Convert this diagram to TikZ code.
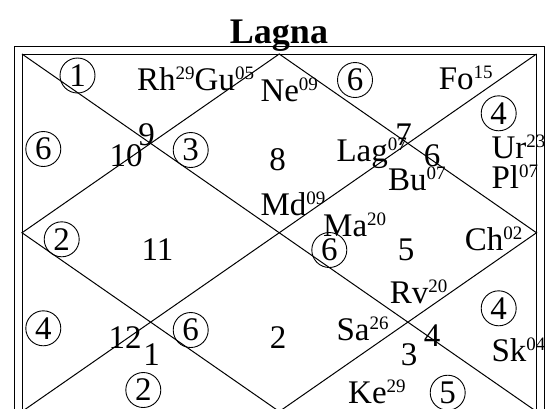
\documentclass[tikz,border=0pt]{standalone}
\usepackage{fontspec}
\setmainfont{Liberation Serif}
\newcommand{\plsup}[2]{#1\raisebox{11pt}{\fontsize{19}{19}\selectfont #2}}
\begin{document}
\begin{tikzpicture}[x=1pt,y=-1pt,line width=1pt,
  lbl/.style={anchor=base west,inner sep=0pt,font=\fontsize{33}{33}\selectfont},
  num/.style={anchor=base,inner sep=0pt,font=\fontsize{33}{33}\selectfont},
  circ/.style={circle,draw,line width=0.9pt,minimum size=35pt,inner sep=0pt,font=\fontsize{33}{33}\selectfont},
  ttl/.style={anchor=base,inner sep=0pt,font=\bfseries\fontsize{36}{36}\selectfont}]
\useasboundingbox (0,0) rectangle (556,408);
\clip (0,0) rectangle (556,408);
% frame
\coordinate (OTL) at (14,46.5);
\coordinate (OBR) at (544,419.5);
\coordinate (TL) at (22,54);
\coordinate (TR) at (536.5,54);
\coordinate (BL) at (22,411.5);
\coordinate (BR) at (536.5,411.5);
\coordinate (T) at (279.25,54);
\coordinate (L) at (22,232.75);
\coordinate (R) at (536.5,232.75);
\coordinate (B) at (279.25,411.5);
\draw (OTL) rectangle (OBR);
\draw (TL) rectangle (BR);
\draw (TL) -- (BR);
\draw (TR) -- (BL);
\draw (T) -- (R) -- (B) -- (L) -- cycle;
% title
\node[ttl] (title) at (279,43) {Lagna};
% planets
\node[lbl] (p1) at (136.7,90.5) {\plsup{Rh}{29}\plsup{Gu}{05}};
\node[lbl] (p2) at (260,101.5) {\plsup{Ne}{09}};
\node[lbl] (p3) at (438.3,89.3) {\plsup{Fo}{15}};
\node[lbl] (p4) at (491,158.3) {\plsup{Ur}{23}};
\node[lbl] (p5) at (491,188.3) {\plsup{Pl}{07}};
\node[lbl] (p6) at (336,161) {\plsup{Lag}{07}};
\node[lbl] (p7) at (387.7,190) {\plsup{Bu}{07}};
\node[lbl] (p8) at (260,215) {\plsup{Md}{09}};
\node[lbl] (p9) at (322.7,236.7) {\plsup{Ma}{20}};
\node[lbl] (p10) at (464.3,250) {\plsup{Ch}{02}};
\node[lbl] (p11) at (389.3,303.3) {\plsup{Rv}{20}};
\node[lbl] (p12) at (336,340) {\plsup{Sa}{26}};
\node[lbl] (p13) at (491,361.7) {\plsup{Sk}{04}};
\node[lbl] (p14) at (347.7,403.3) {\plsup{Ke}{29}};
% sign numbers
\node[num] (s9) at (146.5,145) {9};
\node[num] (s10) at (126,166.7) {10};
\node[num] (s8) at (277.5,170) {8};
\node[num] (s7) at (403.5,145) {7};
\node[num] (s6) at (432,166.7) {6};
\node[num] (s11) at (157.5,260) {11};
\node[num] (s5) at (406,260) {5};
\node[num] (s12) at (125,348.3) {12};
\node[num] (s1) at (151.7,365) {1};
\node[num] (s2) at (278,348) {2};
\node[num] (s4) at (432,346.7) {4};
\node[num] (s3) at (409,365) {3};
% circled numbers
\node[circ] (c1) at (77.5,75.5) {1};
\node[circ] (c2) at (43.3,149) {6};
\node[circ] (c3) at (190.7,150) {3};
\node[circ] (c4) at (355,80) {6};
\node[circ] (c5) at (498.7,113.3) {4};
\node[circ] (c6) at (61.7,239.3) {2};
\node[circ] (c7) at (329.3,250) {6};
\node[circ] (c8) at (43.3,328.3) {4};
\node[circ] (c9) at (190.7,330) {6};
\node[circ] (c10) at (498.7,308.3) {4};
\node[circ] (c11) at (143.3,390) {2};
\node[circ] (c12) at (447.7,392.7) {5};
\end{tikzpicture}
\end{document}
